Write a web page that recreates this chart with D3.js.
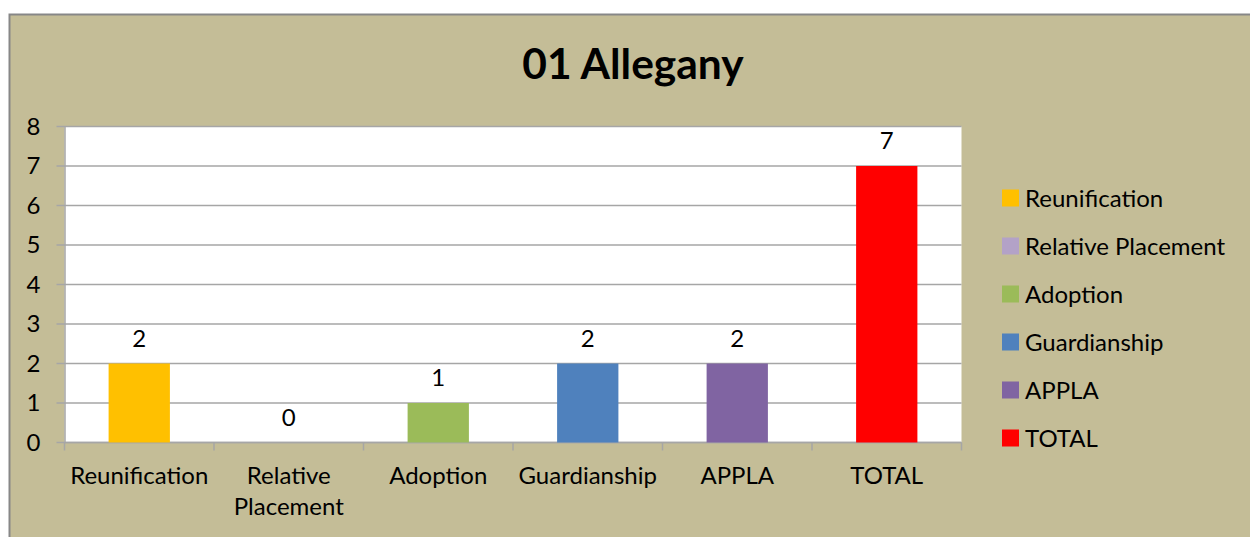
<!DOCTYPE html>
<html lang="en">
<head>
<meta charset="UTF-8">
<title>01 Allegany</title>
<script src="https://cdn.jsdelivr.net/npm/d3@7/dist/d3.min.js"></script>
<style>
    body { margin: 0; background: #fff; }
    svg { display: block; font-family: Lato, "Open Sans", sans-serif; }
</style>
</head>
<body>
<div id="chart"></div>
<script>
const title = "01 Allegany";
const categories = ["Reunification", "Relative Placement", "Adoption", "Guardianship", "APPLA", "TOTAL"];
const axisLabels = [["Reunification"], ["Relative", "Placement"], ["Adoption"], ["Guardianship"], ["APPLA"], ["TOTAL"]];
const values = [2, 0, 1, 2, 2, 7];
const colors = ["#FFC000", "#B3A2C7", "#9BBB59", "#4F81BD", "#8064A2", "#FF0000"];
const yTicks = [0, 1, 2, 3, 4, 5, 6, 7, 8];

const W = 1250, H = 537;
const plot = { left: 64.5, right: 961.5, top: 126.5, bottom: 442.5 };
const fs = 24;

const svg = d3.select("#chart").append("svg")
    .attr("width", W).attr("height", H);

// chart area background + border
svg.append("rect")
    .attr("x", 9.5).attr("y", 14.5)
    .attr("width", W).attr("height", H)
    .attr("fill", "#C4BD97")
    .attr("stroke", "#878787")
    .attr("stroke-width", 2);

svg.append("text")
    .attr("x", 633).attr("y", 79)
    .attr("text-anchor", "middle")
    .attr("font-size", 42.5).attr("font-weight", "bold")
    .attr("fill", "#000")
    .text(title);

const x = d3.scaleBand()
    .domain(categories)
    .range([plot.left, plot.right]);

const y = d3.scaleLinear()
    .domain([0, 8])
    .range([plot.bottom, plot.top]);

svg.append("rect")
    .attr("x", plot.left).attr("y", plot.top)
    .attr("width", plot.right - plot.left).attr("height", plot.bottom - plot.top)
    .attr("fill", "#fff");

// gridlines
svg.append("g")
    .selectAll("line")
    .data(yTicks)
    .enter().append("line")
    .attr("x1", plot.left - 8).attr("x2", plot.right)
    .attr("y1", d => y(d)).attr("y2", d => y(d))
    .attr("stroke", "#A6A6A6").attr("stroke-width", 1.5);

// y axis
const yAxis = svg.append("g")
    .attr("transform", `translate(${plot.left},0)`)
    .call(d3.axisLeft(y).tickValues(yTicks).tickSize(0).tickPadding(24));
yAxis.select(".domain").attr("stroke", "#A6A6A6").attr("stroke-width", 1.5);
yAxis.selectAll("text").attr("font-size", fs).attr("fill", "#000")
    .attr("font-family", "Lato, sans-serif");

// x axis line + ticks at category boundaries
svg.append("line")
    .attr("x1", plot.left).attr("x2", plot.right)
    .attr("y1", plot.bottom).attr("y2", plot.bottom)
    .attr("stroke", "#A6A6A6").attr("stroke-width", 1.5);

const boundaries = categories.map(c => x(c)).concat([x.range()[1]]);
svg.append("g")
    .selectAll("line")
    .data(boundaries)
    .enter().append("line")
    .attr("x1", d => d).attr("x2", d => d)
    .attr("y1", plot.bottom).attr("y2", plot.bottom + 8)
    .attr("stroke", "#A6A6A6").attr("stroke-width", 1.5);

// bars
const barW = x.bandwidth() * 0.41;
svg.append("g")
    .selectAll("rect")
    .data(values)
    .enter().append("rect")
    .attr("x", (d, i) => x(categories[i]) + x.bandwidth() / 2 - barW / 2)
    .attr("y", d => y(d))
    .attr("width", barW)
    .attr("height", d => y(0) - y(d))
    .attr("fill", (d, i) => colors[i]);

// value labels
svg.append("g")
    .selectAll("text")
    .data(values)
    .enter().append("text")
    .attr("x", (d, i) => x(categories[i]) + x.bandwidth() / 2)
    .attr("y", d => y(d) - 17)
    .attr("text-anchor", "middle")
    .attr("font-size", fs)
    .attr("fill", "#000")
    .text(d => d);

// category labels
const catG = svg.append("g")
    .selectAll("text")
    .data(axisLabels)
    .enter().append("text")
    .attr("x", (d, i) => x(categories[i]) + x.bandwidth() / 2)
    .attr("y", 484)
    .attr("text-anchor", "middle")
    .attr("font-size", fs)
    .attr("fill", "#000");
catG.selectAll("tspan")
    .data(d => d)
    .enter().append("tspan")
    .attr("x", function () { return d3.select(this.parentNode).attr("x"); })
    .attr("dy", (d, i) => i === 0 ? 0 : 31)
    .text(d => d);

// legend
const legend = svg.append("g")
    .selectAll("g")
    .data(categories)
    .enter().append("g")
    .attr("transform", (d, i) => `translate(1002,${198 + i * 48})`);
legend.append("rect")
    .attr("x", 0).attr("y", -8.5)
    .attr("width", 17).attr("height", 17)
    .attr("fill", (d, i) => colors[i]);
legend.append("text")
    .attr("x", 23).attr("y", 8.5)
    .attr("font-size", fs)
    .attr("fill", "#000")
    .text(d => d);
</script>
</body>
</html>
